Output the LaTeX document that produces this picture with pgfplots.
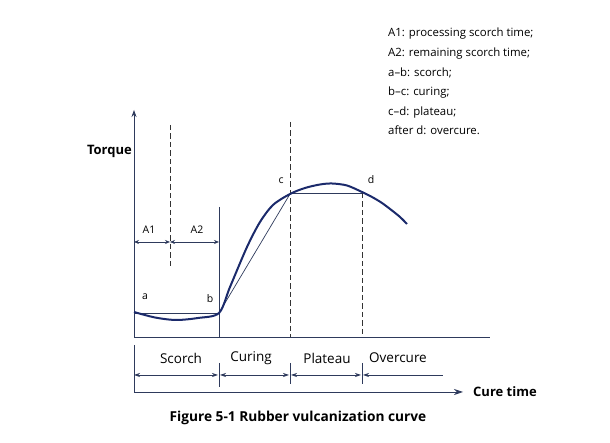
\documentclass[border=0pt]{standalone}
\usepackage{pgfplots}
\pgfplotsset{compat=1.18}
\usepackage{fontspec}
\setmainfont{Open Sans}
\usetikzlibrary{arrows.meta}
\definecolor{navy}{HTML}{1B2A6B}
\definecolor{thinc}{HTML}{2E3A5C}
\begin{document}
\begin{tikzpicture}
\begin{axis}[scale only axis, width=610pt, height=443pt,
  xmin=0, xmax=610, ymin=0, ymax=443, hide axis, clip=false,
  every axis plot/.append style={mark=none}]
\addplot[draw=none] coordinates {(0,0) (610,443)};
% axes
\addplot[thinc, line width=0.8pt, -{Stealth[length=7pt,width=5pt]}] coordinates {(134,106) (134,333)};
\addplot[thinc, line width=0.8pt] coordinates {(134,106) (490,106)};
\addplot[thinc, line width=0.8pt] coordinates {(134,98) (134,51)};
\addplot[thinc, line width=0.8pt, -{Stealth[length=9pt,width=6pt]}] coordinates {(134,51) (463,51)};
% dashed lines
\addplot[black!80, line width=0.8pt, dash pattern=on 5.5pt off 3pt] coordinates {(170,318) (170,176)};
\addplot[black!80, line width=0.8pt, dash pattern=on 5.5pt off 3pt] coordinates {(290,321) (290,106)};
\addplot[black!80, line width=0.8pt, dash pattern=on 5.5pt off 3pt] coordinates {(362,250) (362,106)};
% b vertical
\addplot[thinc, line width=0.8pt] coordinates {(219,236) (219,106)};
% A1 A2 arrows
\addplot[thinc, line width=0.7pt, {Stealth[length=5pt,width=4pt]}-{Stealth[length=5pt,width=4pt]}] coordinates {(134,201) (170,201)};
\addplot[thinc, line width=0.7pt, {Stealth[length=5pt,width=4pt]}-{Stealth[length=5pt,width=4pt]}] coordinates {(170,201) (219,201)};
% thin reference lines
\addplot[thinc, line width=0.7pt] coordinates {(134,130) (219,130)};
\addplot[thinc, line width=0.7pt] coordinates {(219,130) (290,249)};
\addplot[thinc, line width=0.7pt] coordinates {(290,250) (362,250)};
% curve
\addplot[navy, line width=2pt, smooth, tension=0.5] coordinates {
(134,131) (155,125.5) (176,123) (198,125) (219,130)
(230,156) (247,196) (260,221) (273,238) (290,249)
(305,255) (320,258.5) (332,259.5) (347,257.5) (362,251)
(372,246) (382,240) (392,232.5) (400,226) (407,219)};
% bottom arrows
\addplot[thinc, line width=0.7pt, {Stealth[length=6pt,width=4pt]}-{Stealth[length=6pt,width=4pt]}] coordinates {(134,68) (218,68)};
\addplot[thinc, line width=0.7pt, {Stealth[length=6pt,width=4pt]}-{Stealth[length=6pt,width=4pt]}] coordinates {(220,68) (289,68)};
\addplot[thinc, line width=0.7pt, {Stealth[length=6pt,width=4pt]}-{Stealth[length=6pt,width=4pt]}] coordinates {(291,68) (361,68)};
\addplot[thinc, line width=0.7pt, {Stealth[length=6pt,width=4pt]}-] coordinates {(363,68) (443,68)};
\addplot[thinc, line width=0.8pt] coordinates {(219,80) (219,56)};
\addplot[thinc, line width=0.8pt] coordinates {(290,80) (290,59)};
\addplot[thinc, line width=0.8pt] coordinates {(362,80) (362,59)};
% labels
\node[anchor=east, font=\bfseries\fontsize{13}{15}\selectfont, inner sep=0pt] at (axis cs:132,292) {Torque};
\node[font=\fontsize{10.5}{12}\selectfont] at (axis cs:149,213) {A1};
\node[font=\fontsize{10.5}{12}\selectfont] at (axis cs:197,213) {A2};
\node[font=\fontsize{10.5}{12}\selectfont] at (axis cs:145,146) {a};
\node[font=\fontsize{10.5}{12}\selectfont] at (axis cs:210,144) {b};
\node[font=\fontsize{10.5}{12}\selectfont] at (axis cs:281,262) {c};
\node[font=\fontsize{10.5}{12}\selectfont] at (axis cs:371,263) {d};
\node[font=\fontsize{13.5}{15}\selectfont] at (axis cs:181,85) {Scorch};
\node[font=\fontsize{13.5}{15}\selectfont] at (axis cs:251,85) {Curing};
\node[font=\fontsize{13.5}{15}\selectfont] at (axis cs:327,85) {Plateau};
\node[font=\fontsize{13.5}{15}\selectfont] at (axis cs:398,85) {Overcure};
\node[anchor=west, font=\bfseries\fontsize{13}{15}\selectfont, inner sep=0pt] at (axis cs:473,51) {Cure time};
\node[font=\bfseries\fontsize{13.7}{15}\selectfont] at (axis cs:298,25) {Figure 5-1 Rubber vulcanization curve};
\begin{scope}[every node/.style={anchor=base west, inner sep=0pt, font=\fontsize{11.4}{14}\selectfont}]
\node at (axis cs:388,406) {A1: processing scorch time;};
\node at (axis cs:388,386.4) {A2: remaining scorch time;};
\node at (axis cs:388,366.8) {a–b: scorch;};
\node at (axis cs:388,347.2) {b–c: curing;};
\node at (axis cs:388,327.6) {c–d: plateau;};
\node at (axis cs:388,308) {after d: overcure.};
\end{scope}
\end{axis}
\end{tikzpicture}
\end{document}
